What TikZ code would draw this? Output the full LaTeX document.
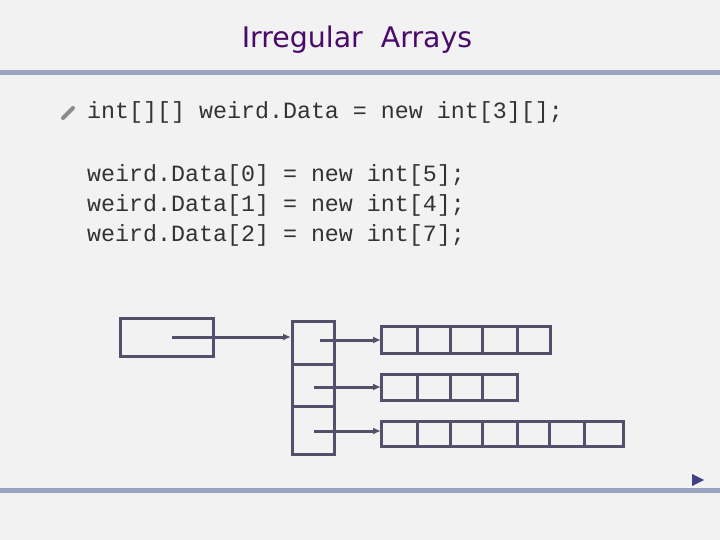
\documentclass[tikz,border=0pt]{standalone}
\usepackage{fontspec}
\setmainfont{DejaVu Sans}
\setmonofont{Liberation Mono}
\begin{document}
\begin{tikzpicture}[x=1bp,y=-1bp,
  bx/.style={draw=boxc,line width=3bp},
  ar/.style={draw=boxc,line width=3bp,-{Latex[length=8bp,width=7bp]}},
  code/.style={font=\ttfamily\fontsize{23.4}{26}\selectfont,anchor=west,inner sep=0,text=black!80}]
\definecolor{boxc}{HTML}{52506A}
\definecolor{titc}{HTML}{4A0A6A}
\definecolor{rulec}{HTML}{9AA4C0}
\usetikzlibrary{arrows.meta}
\fill[black!5] (0,0) rectangle (720,540);
\useasboundingbox (0,0) rectangle (720,540);
\node[text=titc,font=\fontsize{28.5}{32}\selectfont] (title) at (357,40) {Irregular\ \ Arrays};
\draw[rulec,line width=5bp] (0,73) -- (720,73);
\draw[rulec,line width=5bp] (0,490) -- (720,490);
\draw[black!45,line width=4bp,line cap=round] (63,118) -- (73,108);
\node[code] (l0) at (87,112) {int[][] weird.Data = new int[3][];};
\node[code] (l1) at (87,175) {weird.Data[0] = new int[5];};
\node[code] (l2) at (87,205) {weird.Data[1] = new int[4];};
\node[code] (l3) at (87,235) {weird.Data[2] = new int[7];};
\draw[bx] (120,318) rectangle (213,356);
\draw[bx] (292,321) rectangle (334,454);
\draw[bx] (292,364) -- (336,364);
\draw[bx] (292,406) -- (334,406);
\draw[bx] (381,326) rectangle (550,353);
\foreach \x in {417,450,482,517} \draw[bx] (\x,326) -- (\x,353);
\draw[bx] (381,374) rectangle (517,400);
\foreach \x in {417,450,482} \draw[bx] (\x,374) -- (\x,400);
\draw[bx] (381,421) rectangle (623,446);
\foreach \x in {417,450,482,517,549,584} \draw[bx] (\x,421) -- (\x,446);
\coordinate (s0) at (172,337); \coordinate (e0) at (291,337);
\coordinate (s1) at (320,340); \coordinate (e1) at (381,340);
\coordinate (s2) at (314,387); \coordinate (e2) at (381,387);
\coordinate (s3) at (314,431); \coordinate (e3) at (381,431);
\draw[ar] (s0) -- (e0);
\draw[ar] (s1) -- (e1);
\draw[ar] (s2) -- (e2);
\draw[ar] (s3) -- (e3);
\fill[boxc!80!blue] (692,474) -- (704,480) -- (692,486) -- cycle;
\end{tikzpicture}
\end{document}
